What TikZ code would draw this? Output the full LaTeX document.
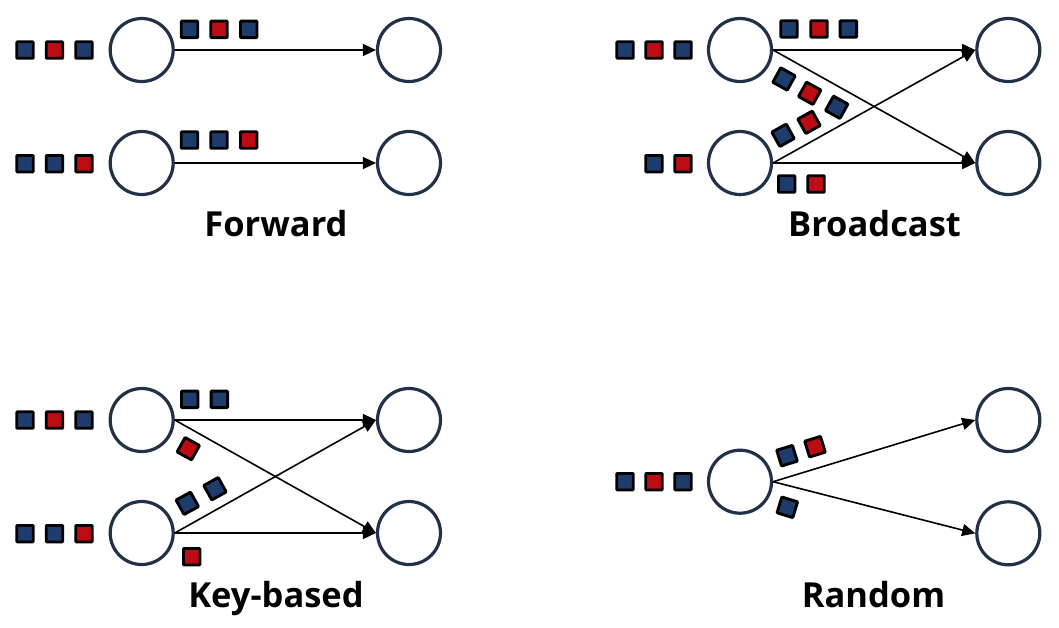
\documentclass[tikz,border=0pt]{standalone}
\usepackage{fontspec}
\setmainfont{Open Sans}
\usetikzlibrary{arrows.meta}

\definecolor{pktblue}{RGB}{31,61,108}
\definecolor{pktred}{RGB}{190,12,20}
\definecolor{ringcol}{RGB}{33,49,71}

\tikzset{
  worker/.style={circle, draw=ringcol, line width=3.2pt, minimum size=63pt, inner sep=0pt},
  pkt/.style={rectangle, draw=black, line width=2.9pt, minimum size=16.5pt, inner sep=0pt, rounded corners=0.8pt},
  flow/.style={-{Triangle[length=13pt,width=12pt]}, line width=1.6pt},
  title/.style={font=\bfseries\fontsize{34.5}{40}\selectfont, anchor=base}
}

\begin{document}
\begin{tikzpicture}[x=1pt,y=-1pt]
    \useasboundingbox (0,0) rectangle (1059,627);

    % ==== Parameters ====
    \def\LA{141.7} \def\LB{409}    % circle columns, left half
    \def\RA{740}   \def\RB{1008.3} % circle columns, right half

    % ==== Forward ====
    \node[worker] (f1) at (\LA,50) {};
    \node[worker] (f2) at (\LB,50) {};
    \node[worker] (f3) at (\LA,163) {};
    \node[worker] (f4) at (\LB,163) {};
    \draw[flow] (f1.east) -- (f2.west);
    \draw[flow] (f3.east) -- (f4.west);
    \foreach \x/\y/\c [count=\i] in {25/50/pktblue, 54.5/50/pktred, 84/50/pktblue,
        189.5/29.3/pktblue, 219/29.3/pktred, 248.7/29.3/pktblue,
        25/163.7/pktblue, 54.5/163.7/pktblue, 84/163.7/pktred,
        189.5/140/pktblue, 219/140/pktblue, 248.7/140/pktred}{
        \node[pkt, fill=\c] (fp\i) at (\x,\y) {};
      }
    \node[title] (fwd) at (276,236.7) {Forward};

    % ==== Broadcast ====
    \node[worker] (b1) at (\RA,50) {};
    \node[worker] (b2) at (\RB,50) {};
    \node[worker] (b3) at (\RA,163) {};
    \node[worker] (b4) at (\RB,163) {};
    \draw[flow] (b1.east) -- (b2.west);
    \draw[flow] (b1.east) -- (b4.west);
    \draw[flow] (b3.east) -- (b2.west);
    \draw[flow] (b3.east) -- (b4.west);
    \foreach \x/\y/\c/\r [count=\i] in {625/50/pktblue/0, 654/50/pktred/0, 683/50/pktblue/0,
        654/163.7/pktblue/0, 683/163.7/pktred/0,
        789/29/pktblue/0, 819/29/pktred/0, 848.3/29/pktblue/0,
        786.7/184/pktblue/0, 816/184/pktred/0,
        784/79/pktblue/-29, 809.7/93.3/pktred/-29, 836.7/107.3/pktblue/-29,
        783/135.3/pktblue/29, 809/122.3/pktred/29}{
        \node[pkt, fill=\c, rotate=\r] (bp\i) at (\x,\y) {};
      }
    \node[title] (bcast) at (874.5,236.7) {Broadcast};

    % ==== Key-based ====
    \node[worker] (k1) at (\LA,420) {};
    \node[worker] (k2) at (\LB,420) {};
    \node[worker] (k3) at (\LA,533) {};
    \node[worker] (k4) at (\LB,533) {};
    \draw[flow] (k1.east) -- (k2.west);
    \draw[flow] (k1.east) -- (k4.west);
    \draw[flow] (k3.east) -- (k2.west);
    \draw[flow] (k3.east) -- (k4.west);
    \foreach \x/\y/\c/\r [count=\i] in {25/420/pktblue/0, 54.5/420/pktred/0, 84/420/pktblue/0,
        25/533.7/pktblue/0, 54.5/533.7/pktblue/0, 84/533.7/pktred/0,
        189.7/399.3/pktblue/0, 219.3/399.3/pktblue/0,
        188.3/448.7/pktred/-29,
        187.3/503.3/pktblue/29, 215/488.7/pktblue/29,
        191.7/556.7/pktred/0}{
        \node[pkt, fill=\c, rotate=\r] (kp\i) at (\x,\y) {};
      }
    \node[title] (keyb) at (276,607.3) {Key-based};

    % ==== Random ====
    \node[worker] (r1) at (\RA,481.7) {};
    \node[worker] (r2) at (\RB,420) {};
    \node[worker] (r3) at (\RB,533.3) {};
    \draw[flow] (r1.east) -- (r2.west);
    \draw[flow] (r1.east) -- (r3.west);
    \foreach \x/\y/\c/\r [count=\i] in {625/481.7/pktblue/0, 654/481.7/pktred/0, 683/481.7/pktblue/0,
        787/455.7/pktblue/17, 815/446.7/pktred/17,
        787.3/507.3/pktblue/-17}{
        \node[pkt, fill=\c, rotate=\r] (rp\i) at (\x,\y) {};
      }
    \node[title] (rand) at (873.5,607.3) {Random};
  \end{tikzpicture}
\end{document}
